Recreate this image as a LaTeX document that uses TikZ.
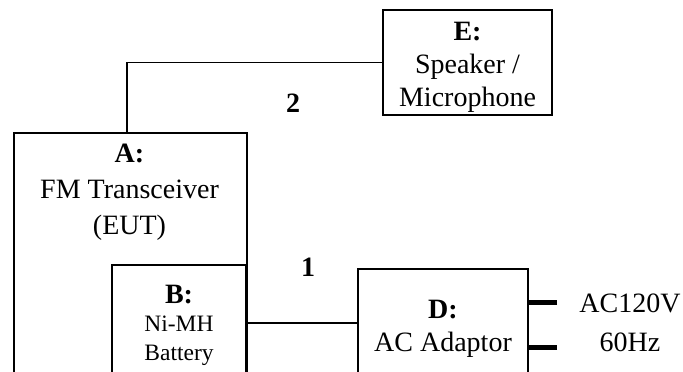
\documentclass[tikz,border=0pt]{standalone}
\usepackage{fontspec}
\setmainfont{Liberation Serif}
\usetikzlibrary{positioning}

\begin{document}
\begin{tikzpicture}[x=1pt, y=-1pt, line width=1.5pt,
  box/.style={draw, rectangle, inner sep=0pt},
  txt/.style={align=center, inner sep=0pt, font=\fontsize{28}{33}\selectfont},
  smalltxt/.style={align=center, inner sep=0pt, font=\fontsize{23.5}{29}\selectfont},
  plug/.style={line width=5pt}]
\useasboundingbox (0,0) rectangle (683,372);
\clip (0,0) rectangle (683,372);

% Nodes
\node[box, minimum width=169pt, minimum height=105pt] (spk) at (467.5,62.5) {};
\node[txt] (spklbl) at (467.5,67) {\textbf{E:}\\Speaker /\\Microphone};

\node[box, minimum width=233pt, minimum height=300pt, anchor=north west] (eut) at (13,132) {};
\node[txt, font=\fontsize{28}{36}\selectfont] (eutlbl) at (129.5,192) {\textbf{A:}\\FM Transceiver\\(EUT)};

\node[box, minimum width=134pt, minimum height=116pt] (bat) at (179,323) {};
\node[txt] (batkey) at (179,295) {\textbf{B:}};
\node[smalltxt] (batlbl) at (179,341) {Ni-MH\\Battery};

\node[box, minimum width=170pt, minimum height=108pt] (adp) at (443,323) {};
\node[txt] (adplbl) at (443,329) {\textbf{D:}\\AC Adaptor};

\node[txt] (mains) at (630,323) {AC120V\\[6pt]60Hz};

\node[txt] (no2) at (293,103) {\textbf{2}};
\node[txt] (no1) at (308,267) {\textbf{1}};

\coordinate (c2) at (127,132);
\coordinate (pinA) at (557,302);
\coordinate (pinB) at (557,347);

% Cables
\draw (c2) |- (spk.west);
\draw (bat.east) -- (adp.west);
\draw[plug] (pinA) -- (pinA -| adp.east);
\draw[plug] (pinB) -- (pinB -| adp.east);

\end{tikzpicture}
\end{document}
